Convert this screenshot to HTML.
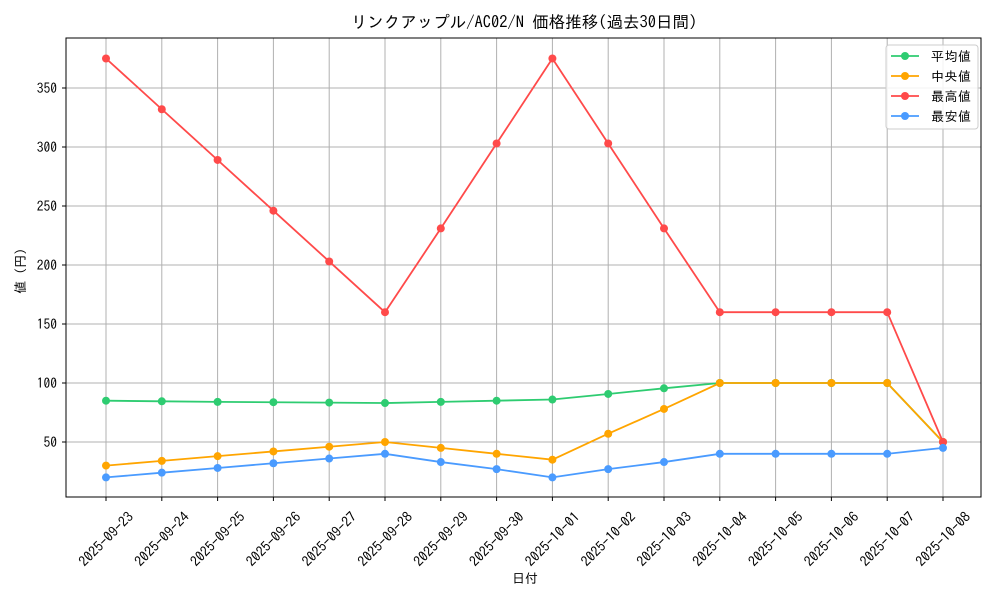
<!DOCTYPE html>
<html><head><meta charset="utf-8"><style>
body{margin:0;background:#fff;}
svg text{font-family:"IPAGothic","Noto Sans CJK JP",monospace;fill:#000;}
</style></head><body>
<svg id="s" width="1000" height="600" xmlns="http://www.w3.org/2000/svg">
<text x="524" y="28" font-size="16.5" text-anchor="middle">リンクアップル/AC02/N 価格推移(過去30日間)</text>
<text x="525" y="583" font-size="13" text-anchor="middle">日付</text>
<text transform="translate(25,271) rotate(-90)" font-size="13" text-anchor="middle">値 (円)</text>
<g id="g"></g>
<rect x="66" y="38" width="915" height="459" fill="none" stroke="#000" stroke-width="1"/>
<g id="leg">
<rect x="886" y="45" width="92" height="84" rx="3" fill="#fff" fill-opacity="0.85" stroke="#ccc"/>
</g>
</svg>
<script>
const g=document.getElementById('g'),L=document.getElementById('leg');
const ns='http://www.w3.org/2000/svg';
function el(p,t,a,txt){const e=document.createElementNS(ns,t);for(const k in a)e.setAttribute(k,a[k]);if(txt)e.textContent=txt;p.appendChild(e);return e;}
const X=i=>106+55.8*i, Y=v=>442-(v-50)*1.18;
const dates=['2025-09-23','2025-09-24','2025-09-25','2025-09-26','2025-09-27','2025-09-28','2025-09-29','2025-09-30','2025-10-01','2025-10-02','2025-10-03','2025-10-04','2025-10-05','2025-10-06','2025-10-07','2025-10-08'];
for(let i=0;i<16;i++){const x=X(i);
el(g,'line',{x1:x,x2:x,y1:38,y2:497,stroke:'#b0b0b0','stroke-width':1});
el(g,'line',{x1:x,x2:x,y1:497,y2:501,stroke:'#000'});
el(g,'text',{x:0,y:5,'font-size':14,'text-anchor':'middle',transform:`translate(${x},${539}) rotate(-45)`},dates[i]);}
for(let v=50;v<=350;v+=50){const y=Y(v);
el(g,'line',{x1:66,x2:981,y1:y,y2:y,stroke:'#b0b0b0','stroke-width':1});
el(g,'line',{x1:62,x2:66,y1:y,y2:y,stroke:'#000'});
el(g,'text',{x:57,y:y+5,'font-size':13.5,'text-anchor':'end'},String(v));}
const S=[
['平均値','#2ecc71',[85,84.5,84,83.7,83.4,83,84,85,86,90.7,95.5,100,100,100,100,50]],
['中央値','#ffa500',[30,34,38,42,46,50,45,40,35,57,78,100,100,100,100,50]],
['最高値','#ff4a4a',[375,332,289,246,203,160,231,303,375,303,231,160,160,160,160,50]],
['最安値','#4a9bff',[20,24,28,32,36,40,33,27,20,27,33,40,40,40,40,45]]];
S.forEach((s,k)=>{
el(g,'polyline',{points:s[2].map((v,i)=>X(i)+','+Y(v)).join(' '),fill:'none',stroke:s[1],'stroke-width':1.8});
s[2].forEach((v,i)=>el(g,'circle',{cx:X(i),cy:Y(v),r:4,fill:s[1]}));
const y=56+k*20;
el(L,'line',{x1:891,x2:919,y1:y,y2:y,stroke:s[1],'stroke-width':1.8});
el(L,'circle',{cx:905,cy:y,r:4,fill:s[1]});
el(L,'text',{x:931,y:y+5,'font-size':13,textLength:40},s[0]);
});
</script>
</body></html>
